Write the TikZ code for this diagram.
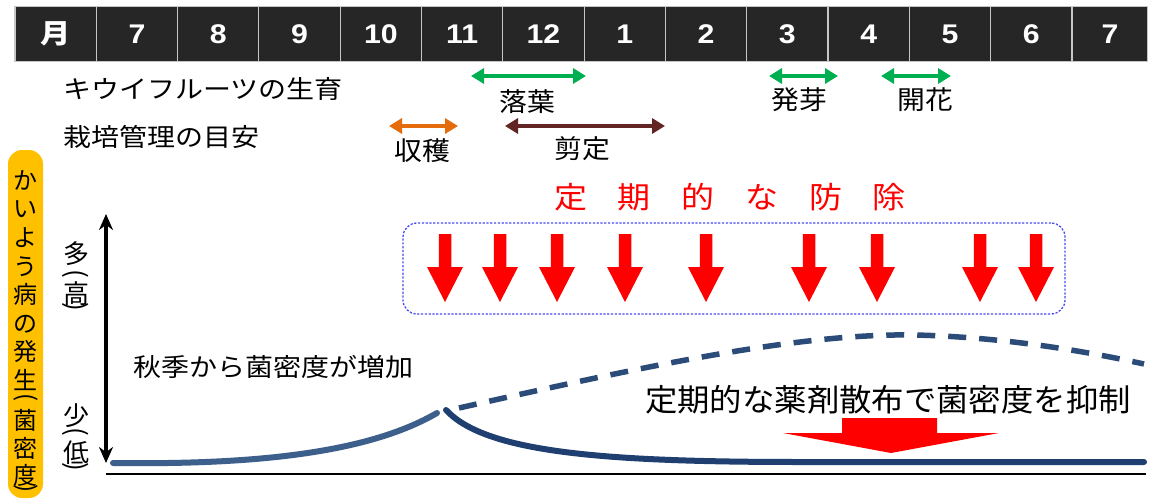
\documentclass[tikz,border=0pt]{standalone}
\usepackage{fontspec}
\usepackage{graphicx}
\setmainfont{Liberation Sans}
\newfontfamily\jp{Noto Sans CJK JP}
\usetikzlibrary{arrows.meta}
\definecolor{hdr}{HTML}{262626}
\definecolor{grn}{HTML}{00B050}
\definecolor{org}{HTML}{E46C0A}
\definecolor{brn}{HTML}{632523}
\definecolor{ylw}{HTML}{FFC000}
\definecolor{navyA}{HTML}{3D5F8C}
\definecolor{navyB}{HTML}{1F3F70}
\definecolor{navyC}{HTML}{2B4C78}
\definecolor{boxblue}{HTML}{4A4AF0}
% vertical-text helpers
\newcommand{\vj}[1]{\hbox to 30pt{\hss\smash{#1}\vrule height 0.88em depth 0.12em width 0pt\hss}}
\newcommand{\vpo}{\hbox to 30pt{\hss\smash{\rotatebox[origin=c]{-90}{(}}\vrule height 12pt depth 0pt width 0pt\hss}}
\newcommand{\vpc}{\hbox to 30pt{\hss\smash{\rotatebox[origin=c]{-90}{)}}\vrule height 12pt depth 0pt width 0pt\hss}}
\begin{document}
\begin{tikzpicture}[x=1pt,y=-1pt,
  cell/.style={draw=gray!45, line width=1.2pt, fill=hdr, text=white, minimum height=55pt, inner sep=0pt, font=\fontsize{27}{30}\selectfont\bfseries, xscale=1.12},
  lbl/.style={inner sep=0pt, font=\jp\fontsize{25}{28}\selectfont, xscale=1.12},
  sub/.style={inner sep=0pt, font=\jp\fontsize{26}{28}\selectfont, xscale=1.07},
  vtext/.style={inner sep=0pt, anchor=north, font=\jp\fontsize{24}{28}\selectfont},
  rowarrow/.style={line width=4pt, <->, >={Triangle[width=15pt,length=13pt]}},
  dotbox/.style={draw=boxblue, line width=1.3pt, dash pattern=on 2.2pt off 1.6pt, rounded corners=14pt},
  redarrow/.style={fill=red},
]
\useasboundingbox (0,0) rectangle (1150,500);
\fill[white] (0,0) rectangle (1150,500);

% header
\node[cell, minimum width=72.6pt, font=\jp\fontsize{27}{30}\selectfont\bfseries] (h0) at (55.6,34) {月};
\foreach \i/\t in {1/7,2/8,3/9,4/10,5/11,6/12,7/1,8/2,9/3,10/4,11/5,12/6}{
  \node[cell, minimum width=72.6pt] (h\i) at ({15+81.3*(\i+0.5)},34) {\t};
}
\node[cell, minimum width=67pt] (h13) at (1110,34) {7};

% row titles
\node[lbl, anchor=west] (kiwi) at (63,89) {キウイフルーツの生育};
\node[lbl, anchor=west] (kanri) at (63,137) {栽培管理の目安};

% growth arrows
\coordinate (rakuA) at (471,76); \coordinate (rakuB) at (586,76);
\coordinate (hatsuA) at (769,76); \coordinate (hatsuB) at (838,76);
\coordinate (kaiA) at (881,76); \coordinate (kaiB) at (951,76);
\coordinate (shuA) at (389,126); \coordinate (shuB) at (458,126);
\coordinate (senA) at (505,126); \coordinate (senB) at (665,126);
\draw[rowarrow, draw=grn, fill=grn] (rakuA) -- (rakuB);
\draw[rowarrow, draw=grn, fill=grn] (hatsuA) -- (hatsuB);
\draw[rowarrow, draw=grn, fill=grn] (kaiA) -- (kaiB);
\draw[rowarrow, draw=org, fill=org] (shuA) -- (shuB);
\draw[rowarrow, draw=brn, fill=brn] (senA) -- (senB);
\node[sub] (raku) at (527,102) {落葉};
\node[sub] (hatsu) at (799,100) {発芽};
\node[sub] (kai) at (925,100) {開花};
\node[sub] (shu) at (422,151) {収穫};
\node[sub] (sen) at (582,149) {剪定};

% regular control
\node[inner sep=0pt, text=red, font=\jp\fontsize{30}{32}\selectfont, xscale=1.1] (bojo) at (730,197)
  {定\kern28pt 期\kern28pt 的\kern28pt な\kern28pt 防\kern28pt 除};
\node[dotbox, minimum width=662pt, minimum height=91pt] (box) at (734,268.5) {};
\foreach \x in {445,500,557,625,706,809,877,980,1036}{
  \fill[redarrow] (\x-6.25,234) -- (\x+6.25,234) -- (\x+6.25,267) -- (\x+18,267) -- (\x,302) -- (\x-18,267) -- (\x-6.25,267) -- cycle;
}

% side label
\node[fill=ylw, rounded corners=14pt, minimum width=35pt, minimum height=348pt, inner sep=0pt] (side) at (25.5,324) {};
\node[vtext] (sidetxt) at (25.5,168) {\vbox{\offinterlineskip
  \vj{か}\kern4.6pt\vj{い}\kern4.6pt\vj{よ}\kern4.6pt\vj{う}\kern4.6pt\vj{病}\kern4.6pt\vj{の}\kern4.6pt\vj{発}\kern4.6pt\vj{生}\kern1pt
  \vpo\kern3pt\vj{菌}\kern4pt\vj{密}\kern3pt\vj{度}\kern-3pt\vpc}};

% axis
\coordinate (axtop) at (106,214);
\coordinate (axbot) at (106,463);
\draw[line width=3.5pt, {Stealth[length=16pt,width=14pt]}-{Stealth[length=16pt,width=14pt]}] (axtop) -- (axbot);
\node[vtext, font=\jp\fontsize{26}{28}\selectfont] (hi) at (76,240) {\vbox{\offinterlineskip
  \vj{多}\kern4pt\vpo\kern-2pt\vj{高}\kern-3pt\vpc}};
\node[vtext, font=\jp\fontsize{26}{28}\selectfont] (lo) at (76,402) {\vbox{\offinterlineskip
  \vj{少}\kern0pt\vpo\kern-1pt\vj{低}\kern-2pt\vpc}};
\coordinate (baseL) at (106,474);
\coordinate (baseR) at (1146,474);
\draw[line width=2.5pt] (baseL) -- (baseR);

% curves
\draw[navyA, line width=6pt, line cap=round] (113,463) .. controls (260,465) and (370,452) .. (437,413);
\draw[navyB, line width=6pt, line cap=round] (446,410) .. controls (485,452) and (600,462) .. (800,462) -- (1144,462);
\draw[navyC, line width=5.5pt, dash pattern=on 18pt off 13pt] (459,408) .. controls (650,365) and (800,333) .. (915,335) .. controls (1000,337) and (1080,350) .. (1144,364);

\node[lbl, anchor=west] (aki) at (133,367) {秋季から菌密度が増加};
\node[inner sep=0pt, font=\jp\fontsize{31}{33}\selectfont, xscale=1.045] (yaku) at (888,400) {定期的な薬剤散布で菌密度を抑制};

\fill[red] (842,418) -- (937,418) -- (937,433) -- (999,433) -- (891,453) -- (783,433) -- (842,433) -- cycle;
\end{tikzpicture}
\end{document}
